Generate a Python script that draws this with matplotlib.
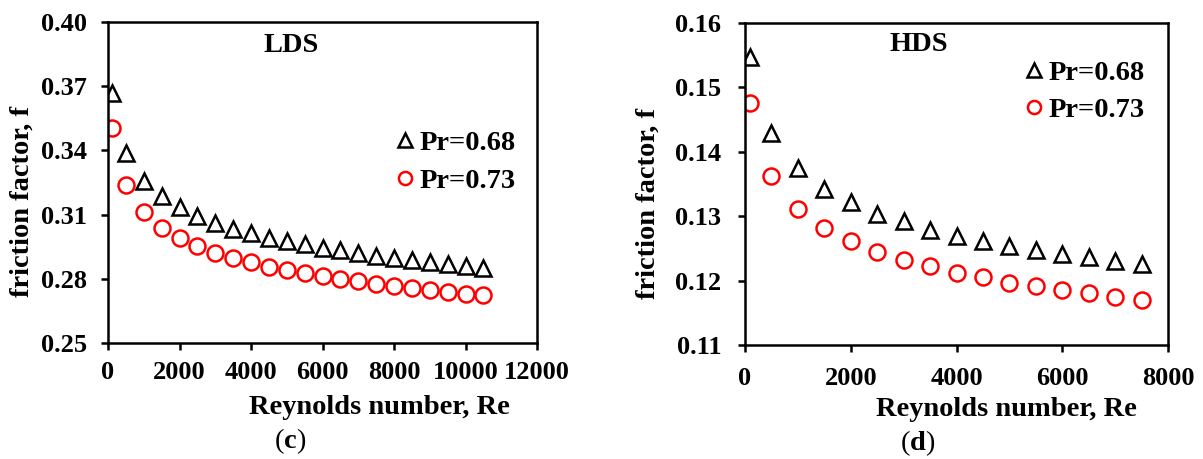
import matplotlib
matplotlib.use('agg')
import matplotlib.pyplot as plt

plt.rcParams['font.family'] = ['Liberation Serif', 'DejaVu Serif']
plt.rcParams['font.weight'] = 'bold'
plt.rcParams['mathtext.fontset'] = 'custom'
plt.rcParams['mathtext.rm'] = 'Liberation Serif'
plt.rcParams['mathtext.bf'] = 'Liberation Serif:bold'

# friction factor vs Reynolds number, low density (LDS) and high density (HDS)
re_lds = [100, 500, 1000, 1500, 2000, 2500, 3000, 3500, 4000, 4500, 5000,
          5500, 6000, 6500, 7000, 7500, 8000, 8500, 9000, 9500, 10000, 10500]
f_lds_068 = [0.3667, 0.3390, 0.3258, 0.3188, 0.3136, 0.3094, 0.3063, 0.3034,
             0.3013, 0.2992, 0.2977, 0.2961, 0.2945, 0.2933, 0.2919, 0.2906,
             0.2895, 0.2886, 0.2878, 0.2870, 0.2859, 0.2852]
f_lds_073 = [0.3503, 0.3238, 0.3114, 0.3039, 0.2989, 0.2953, 0.2922, 0.2898,
             0.2878, 0.2856, 0.2841, 0.2825, 0.2811, 0.2800, 0.2789, 0.2777,
             0.2766, 0.2755, 0.2747, 0.2739, 0.2731, 0.2723]

re_hds = [100, 500, 1000, 1500, 2000, 2500, 3000, 3500, 4000, 4500, 5000,
          5500, 6000, 6500, 7000, 7500]
f_hds_068 = [0.1547, 0.1429, 0.1375, 0.1342, 0.1322, 0.1304, 0.1292, 0.1279,
             0.1269, 0.1262, 0.1254, 0.1247, 0.1241, 0.1236, 0.1230, 0.1225]
f_hds_073 = [0.1475, 0.1363, 0.1311, 0.1281, 0.1261, 0.1245, 0.1232, 0.1222,
             0.1212, 0.1205, 0.1197, 0.1191, 0.1185, 0.1180, 0.1175, 0.1170]

labels = ['Pr=0.68', 'Pr=0.73']
yticks_lds = [0.25, 0.28, 0.31, 0.34, 0.37, 0.40]
yticks_hds = [0.11, 0.12, 0.13, 0.14, 0.15, 0.16]
xticks_lds = [0, 2000, 4000, 6000, 8000, 10000, 12000]
xticks_hds = [0, 2000, 4000, 6000, 8000]

fig = plt.figure(figsize=(12.03, 4.59), dpi=100)
ax1 = fig.add_axes([0.0898, 0.2527, 0.3566, 0.6993])
ax2 = fig.add_axes([0.6193, 0.2484, 0.3516, 0.7015])


def panel(ax, re, f1, f2, xticks, yticks, name, name_pos, leg_pos,
          ylab_x, xlab_pos, ypad, xpad):
    ax.plot(re, f1, linestyle='none', marker='^', markersize=11.5,
            markerfacecolor='none', markeredgecolor='black',
            markeredgewidth=1.8, label=labels[0])
    ax.plot(re, f2, linestyle='none', marker='o', markersize=11.5,
            markerfacecolor='none', markeredgecolor='red',
            markeredgewidth=1.8, label=labels[1])
    ax.set_xlim(xticks[0], xticks[-1])
    ax.set_ylim(yticks[0], yticks[-1])
    ax.set_xticks(xticks)
    ax.set_yticks(yticks)
    ax.set_yticklabels(['%.2f' % v for v in yticks])
    ax.tick_params(axis='both', direction='out', length=5, width=1.8,
                   labelsize=19)
    ax.tick_params(axis='y', pad=ypad)
    ax.tick_params(axis='x', pad=xpad)
    for s in ax.spines.values():
        s.set_linewidth(1.8)
    ax.text(name_pos[0], name_pos[1], name, transform=ax.transAxes,
            ha='center', va='baseline', fontsize=20.5, fontweight='bold')
    ax.text(ylab_x, 0.44, 'friction factor, f', transform=ax.transAxes,
            rotation=90, ha='center', va='center', fontsize=20.5,
            fontweight='bold')
    ax.text(xlab_pos[0], xlab_pos[1], 'Reynolds number, Re',
            transform=ax.transAxes, ha='center', va='baseline',
            fontsize=20.5, fontweight='bold')
    ax.legend(loc='center left', bbox_to_anchor=leg_pos, frameon=False,
              fontsize=20.5, borderpad=0, handlelength=0.6,
              handletextpad=0.2, labelspacing=0.4, markerscale=0.82,
              borderaxespad=0)


panel(ax1, re_lds, f_lds_068, f_lds_073, xticks_lds, yticks_lds, 'LDS',
      (0.428, 0.9065), (0.673, 0.564), -0.2005, (0.632, -0.221), 10, 8)
panel(ax2, re_hds, f_hds_068, f_hds_073, xticks_hds, yticks_hds, 'HDS',
      (0.411, 0.913), (0.6636, 0.787), -0.229, (0.617, -0.2195), 12, 10.5)

fig.text(290 / 1203, 1 - 441 / 459, r'($\mathbf{c}$)', ha='center',
         va='center', fontsize=20.5, fontweight='normal')
fig.text(918 / 1203, 1 - 443 / 459, r'($\mathbf{d}$)', ha='center',
         va='center', fontsize=20.5, fontweight='normal')

plt.savefig('out.png', dpi=100)
